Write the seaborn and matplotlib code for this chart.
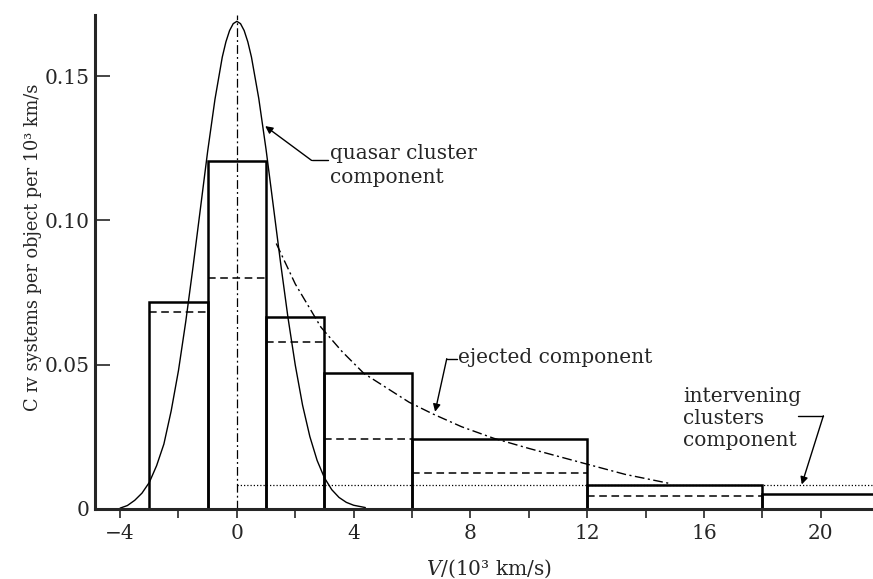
import matplotlib
matplotlib.use("Agg")
import matplotlib.pyplot as plt
import seaborn as sns

# histogram bins (10^3 km/s) and heights (systems per object per 10^3 km/s)
bin_edges = [-3, -1, 1, 3, 6, 12, 18, 22.5]
observed = [0.0716, 0.1206, 0.0665, 0.0470, 0.0242, 0.0082, 0.0053]
cluster_part = [0.0681, 0.0802, 0.0580, 0.0242, 0.0126, 0.0046]
intervening_level = 0.0083
intervening_start = 0
intervening_end = 22.5

# quasar cluster component (curve)
gauss_v = [-4.0, -3.75, -3.5, -3.25, -3.0, -2.75, -2.5, -2.25, -2.0, -1.75, -1.5, -1.25, -1.0,
           -0.75, -0.5, -0.375, -0.25, -0.125, 0.0, 0.125, 0.25, 0.375, 0.5, 0.75, 1.0, 1.25,
           1.5, 1.75, 2.0, 2.25, 2.5, 2.75, 3.0, 3.25, 3.5, 3.75, 4.0, 4.4]
gauss_n = [0.0003, 0.0012, 0.0030, 0.0055, 0.0092, 0.0150, 0.0225, 0.034, 0.048, 0.065, 0.084,
           0.104, 0.124, 0.142, 0.1566, 0.1619, 0.1658, 0.1682, 0.169, 0.1682, 0.1658, 0.1619,
           0.1566, 0.1423, 0.1246, 0.1049, 0.0851, 0.0664, 0.0499, 0.0360, 0.0251, 0.0168,
           0.0108, 0.0067, 0.0040, 0.0023, 0.0013, 0.0005]

# ejected component
eject_v = [1.35, 2.0, 2.88, 3.6, 4.35, 5.9, 6.7, 7.7, 8.8, 10.0, 11.9, 13.3, 14.8]
eject_n = [0.092, 0.078, 0.063, 0.0546, 0.047, 0.037, 0.033, 0.0285, 0.0245, 0.021, 0.0158, 0.012, 0.0089]

sns.set_theme(style="ticks")
plt.rcParams["font.family"] = ["DejaVu Serif", "DejaVu Sans"]
plt.rcParams["mathtext.fontset"] = "dejavuserif"

fig = plt.figure(figsize=(8.73, 5.79), dpi=100)
ax = fig.add_axes([0.1088, 0.1209, 0.8912, 0.8532])

mids = [(a + b) / 2 for a, b in zip(bin_edges[:-1], bin_edges[1:])]
sns.histplot(x=mids, weights=observed, bins=bin_edges, fill=False, element="bars",
             color="black", linewidth=1.8, ax=ax)
ax.hlines(cluster_part, bin_edges[:len(cluster_part)], bin_edges[1:len(cluster_part) + 1],
          colors="black", linestyles=(0, (5, 3)), linewidth=1.1)
ax.plot([intervening_start, intervening_end], [intervening_level, intervening_level],
        color="black", linestyle=(0, (1, 1.6)), linewidth=0.9)

sns.lineplot(x=gauss_v, y=gauss_n, sort=False, color="black", linewidth=1.0, ax=ax)
sns.lineplot(x=eject_v, y=eject_n, sort=False, color="black", linewidth=1.0,
             linestyle=(0, (7, 2.5, 1.5, 2.5)), ax=ax)
ax.axvline(0, color="black", linewidth=0.9, linestyle=(0, (7, 2.5, 1.5, 2.5)))

ax.set_xlim(-4.86, 21.79)
ax.set_ylim(0, 0.1712)

ax.set_xticks([-4, 0, 4, 8, 12, 16, 20])
ax.set_xticks(list(range(-4, 22, 2)), minor=True)
ax.set_yticks([0, 0.05, 0.10, 0.15])
ax.set_yticklabels(["0", "0.05", "0.10", "0.15"])
ax.tick_params(axis="x", which="both", direction="out", length=6.5, width=1.2,
               labelsize=14.5, pad=4)
ax.tick_params(axis="y", direction="in", length=11, width=1.2, labelsize=14.5, pad=4)

for side in ["top", "right"]:
    ax.spines[side].set_visible(False)
for side in ["left", "bottom"]:
    ax.spines[side].set_linewidth(2.2)
    ax.spines[side].set_zorder(5)

ax.set_xlabel(r"$V$/(10³ km/s)", fontsize=14.5, va="top")
ax.xaxis.set_label_coords(0.506, -0.099)
ax.set_ylabel("C ɪᴠ systems per object per 10³ km/s", fontsize=12.8)
ax.yaxis.set_label_coords(-0.068, 0.529)

arrow = dict(arrowstyle="-|>", color="black", lw=1.0, mutation_scale=11, shrinkA=0, shrinkB=0)

# quasar cluster label
ax.text(3.19, 0.1191, "quasar cluster\ncomponent", fontsize=14.5, ha="left", va="center", linespacing=1.35)
ax.plot([2.56, 3.12], [0.1208, 0.1208], color="black", linewidth=1.0)
ax.annotate("", xy=(0.97, 0.1327), xytext=(2.56, 0.1208), arrowprops=arrow)

# ejected label
ax.text(7.58, 0.0524, "ejected component", fontsize=14.5, ha="left", va="center")
ax.plot([7.19, 7.53], [0.0521, 0.0521], color="black", linewidth=1.0)
ax.annotate("", xy=(6.79, 0.0337), xytext=(7.19, 0.0521), arrowprops=arrow)

# intervening label
ax.text(15.28, 0.0312, "intervening\nclusters\ncomponent", fontsize=14.5, ha="left", va="center",
        linespacing=1.2)
ax.plot([19.23, 20.09], [0.0323, 0.0323], color="black", linewidth=1.0)
ax.annotate("", xy=(19.35, 0.0085), xytext=(20.09, 0.0323), arrowprops=arrow)

fig.savefig("out.png", dpi=100)
